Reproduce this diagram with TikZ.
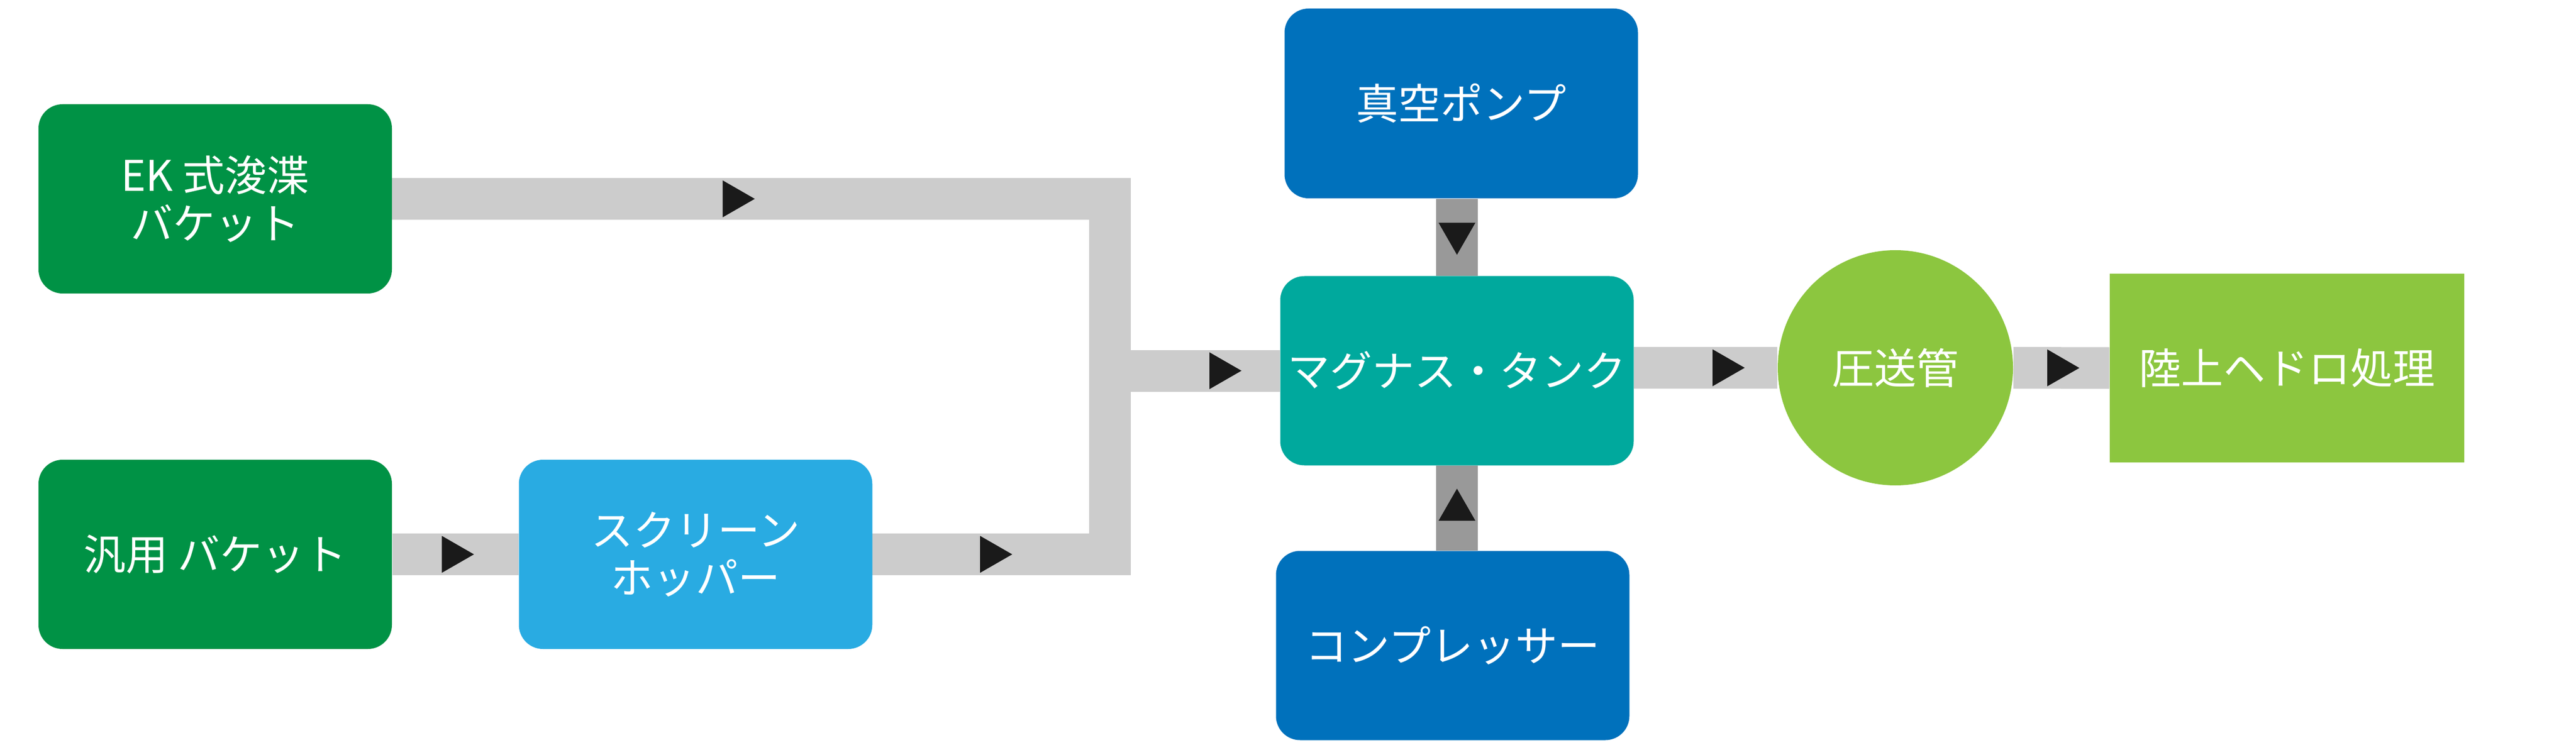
\documentclass[tikz,border=0pt]{standalone}
\usepackage{fontspec}
\setmainfont{Noto Sans CJK JP}
\usetikzlibrary{decorations.markings,backgrounds}
\definecolor{dkgreen}{RGB}{0,146,69}
\definecolor{ltblue}{RGB}{41,171,226}
\definecolor{pumpblue}{RGB}{0,113,188}
\definecolor{tankteal}{RGB}{0,169,157}
\definecolor{ltgreen}{RGB}{140,198,63}
\definecolor{bandgray}{RGB}{204,204,204}
\definecolor{dkgray}{RGB}{153,153,153}
\definecolor{tipblack}{RGB}{26,26,26}
\begin{document}
\begin{tikzpicture}[line join=miter,font=\fontsize{22.5}{25.5}\selectfont,
		box/.style={rounded corners=.45cm,minimum width=6.61cm,minimum height=3.54cm,text=white,align=center,inner sep=0pt},
		band/.style={line width=.78cm,color=bandgray},
		flow/.style={postaction={decorate},decoration={markings,mark=at position #1 with {\fill[tipblack] (-.3,.345)--(.3,0)--(-.3,-.345)--cycle;}}}]
			\useasboundingbox (0,0) rectangle (48.18,14.02);
			\node[box,fill=dkgreen] (ek) at (4.025,10.30) {EK 式浚渫\\バケット};
			\node[box,fill=dkgreen] (gen) at (4.025,3.65) {汎用 バケット};
			\node[box,fill=ltblue] (hop) at (13.01,3.65) {スクリーン\\ホッパー};
			\node[box,fill=pumpblue,minimum height=3.55cm] (vac) at (27.33,12.085) {真空ポンプ};
			\node[box,fill=tankteal] (tank) at (27.25,7.085) {マグナス・タンク};
			\node[box,fill=pumpblue] (comp) at (27.17,1.945) {コンプレッサー};
			\node[circle,fill=ltgreen,minimum size=4.4cm,text=white,inner sep=0pt] (pipe) at (35.45,7.14) {圧送管};
			\node[fill=ltgreen,minimum width=6.63cm,minimum height=3.53cm,text=white,inner sep=0pt] (land) at (42.775,7.135) {陸上ヘドロ処理};
			\coordinate (j) at (20.76,3.65);
			\begin{scope}[on background layer]
				\draw[band,line cap=rect,flow=6.48cm] (ek.east) -- (ek.east -| j) -- (j);
				\draw[band,line cap=rect,flow=2.31cm] (hop.east) -- (j);
				\draw[band,flow=.52] (gen.east) -- (hop.west);
				\draw[band,flow=2.16cm] (j |- tank.west) -- (tank.west);
				\draw[band,flow=.66] (tank.east |- pipe.west) -- (pipe.west);
				\draw[band,flow=.52] (pipe.east) -- (land.west);
				\draw[band,color=dkgray,flow=.52] (vac.south -| tank.north) -- (tank.north);
				\draw[band,color=dkgray,flow=.54] (comp.north -| tank.south) -- (tank.south);
			\end{scope}
\end{tikzpicture}
\end{document}
